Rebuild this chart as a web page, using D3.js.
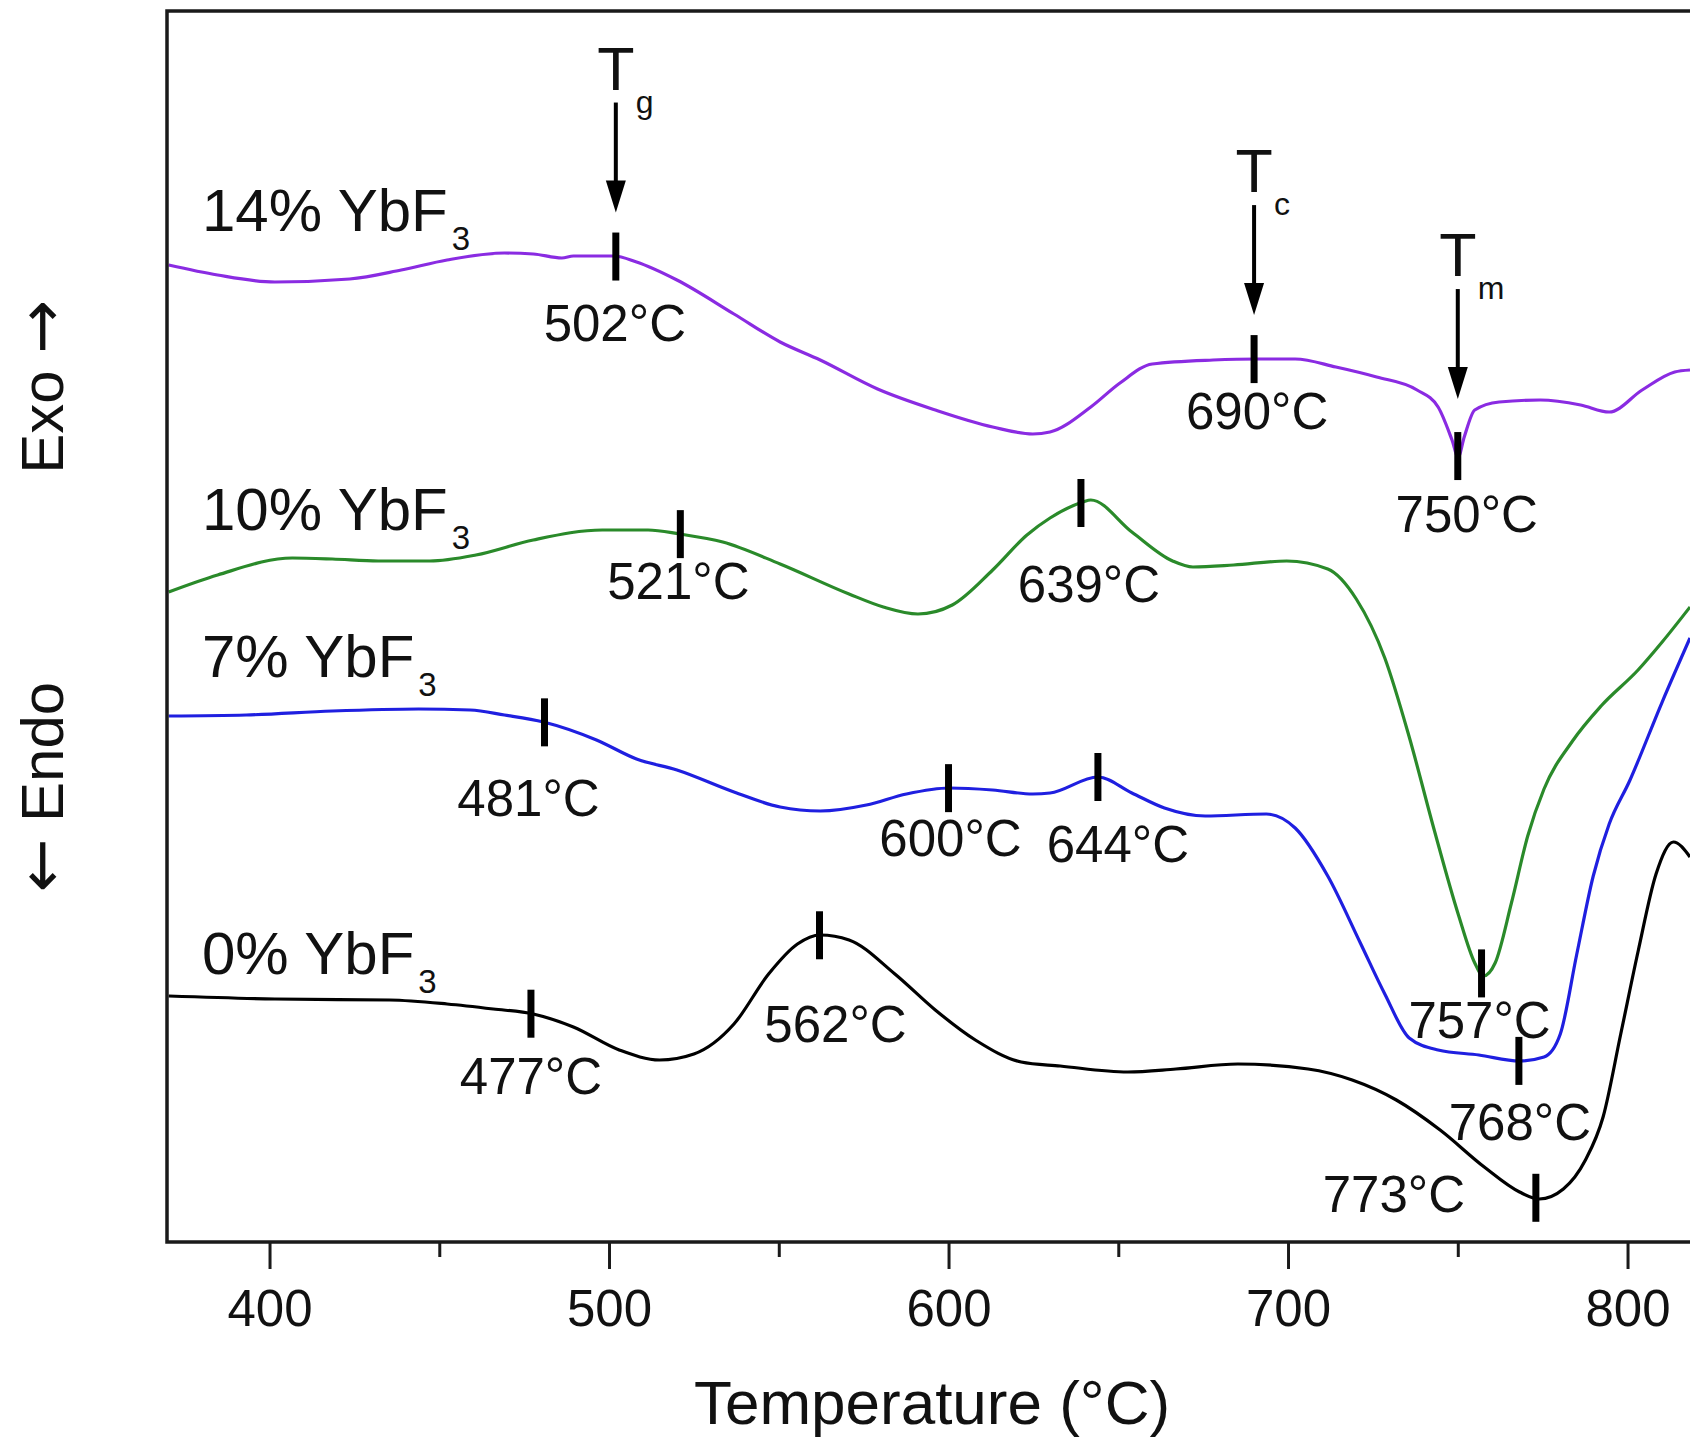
<!DOCTYPE html>
<html>
<head>
<meta charset="utf-8">
<script src="https://cdn.jsdelivr.net/npm/d3@7"></script>
<style>
  body { margin: 0; background: #fff; }
  text { font-family: "Liberation Sans", Arial, Helvetica, sans-serif; fill: #111; }
</style>
</head>
<body>
<svg id="chart" width="1690" height="1442"></svg>
<script>
// DSC traces: temperature (°C) and heat flow (arbitrary units)
var temp14 = [370.3,384.7,401.6,423.6,438.8,452.3,469.2,477.7,486.1,489.5,501.4,508.1,520.0,536.8,550.4,562.2,579.1,596.1,613.0,624.8,629.9,641.9,650.5,660.0,677.9,691.2,702.1,714.1,726.1,738.0,744.2,748.3,750.1,751.9,755.0,762.2,774.3,786.2,794.6,804.3,813.9,818.4];
var flow14 = [97.7,96.7,96.0,96.3,97.2,98.2,98.9,98.8,98.4,98.6,98.6,98.0,96.2,92.8,90.0,88.2,85.3,83.2,81.5,80.8,81.0,83.5,85.9,87.8,88.2,88.3,88.3,87.5,86.5,85.2,83.5,80.2,78.5,80.5,83.2,84.0,84.2,83.7,83.0,85.2,87.0,87.2];

var temp10 = [370.3,384.7,406.7,418.5,432.0,447.2,460.8,477.7,498.0,511.5,520.8,533.5,550.4,570.7,580.8,591.0,601.1,613.0,623.1,629.9,639.6,641.9,654.0,666.0,672.0,684.0,699.6,711.7,720.1,728.5,735.7,742.9,750.2,755.0,757.5,761.0,765.8,770.6,775.4,783.8,792.2,803.1,810.2,818.4];
var flow10 = [65.0,66.7,68.4,68.3,68.1,68.1,68.7,70.2,71.2,71.2,70.8,70.0,67.8,64.8,63.5,62.8,63.7,67.2,70.7,72.4,74.0,74.2,71.0,68.1,67.5,67.7,68.1,67.3,64.3,58.4,50.5,41.4,32.7,27.9,26.6,27.9,33.9,40.6,45.3,50.1,53.6,57.2,60.0,63.5];

var temp7 = [370.3,393.1,418.5,443.9,459.1,469.2,480.7,496.3,508.1,520.0,536.8,550.4,562.2,575.8,587.6,600.3,613.0,624.8,629.9,644.0,654.0,663.6,675.6,693.6,702.1,711.7,721.3,728.5,735.7,744.2,756.2,768.2,775.4,780.2,785.0,789.9,794.6,800.6,810.2,818.4];
var flow7 = [52.6,52.7,53.1,53.3,53.2,52.7,52.0,50.2,48.3,47.2,45.0,43.5,43.1,43.7,44.8,45.4,45.2,44.8,44.9,46.5,44.9,43.4,42.6,42.8,41.4,36.6,29.9,24.8,20.4,19.2,18.7,18.1,18.5,20.8,28.7,36.6,41.8,46.1,54.0,60.4];

var temp0 = [370.3,401.6,435.4,452.3,465.9,477.7,489.5,503.0,514.9,525.0,536.8,547.0,555.5,562.2,570.7,584.2,596.1,607.9,621.4,632.9,652.8,667.0,685.2,705.9,718.9,731.9,744.8,757.8,768.2,774.0,781.1,787.6,792.8,798.0,803.2,808.4,813.5,818.4];
var flow0 = [24.6,24.3,24.2,23.8,23.3,22.8,21.5,19.2,18.2,18.8,21.8,26.8,29.8,30.7,30.2,26.8,23.2,20.2,18.0,17.6,17.0,17.3,17.8,17.3,16.2,14.2,11.2,7.5,5.0,4.3,5.3,8.2,12.5,20.8,29.2,36.8,40.0,38.5];

var compositions = ['14%', '10%', '7%', '0%'];
var colors = ['#8a2be2', '#2a8a2a', '#1f1fe0', '#000000'];

// marked temperatures (trace index, °C)
var markTrace = [0,0,0,1,1,1,2,2,2,2,3,3,3];
var markTemp = [502,690,750,521,639,757,481,600,644,768,477,562,773];

// Tg, Tc, Tm arrows on the 14% trace
var phaseTemp = [502, 690, 750];
var phaseSub = ['g', 'c', 'm'];

var xTicks = [400, 500, 600, 700, 800];
var xMinor = [450, 550, 650, 750];

// ---- layout ----
var W = 1690, H = 1442;
var plotLeft = 167, plotTop = 11, plotBottom = 1242;
var markDx = [-1,3,9,-2,8,-2,-16,2,20,1,0,16,-142];
var markDy = [84,70,76,65,99,65,94,68,85,79,80,107,14];
var nameY = [231, 530, 677, 974];
var arrowGap = [20, 20, 33];

var traces = [
  {T: temp14, v: flow14},
  {T: temp10, v: flow10},
  {T: temp7, v: flow7},
  {T: temp0, v: flow0}
];

var svg = d3.select('#chart');
svg.append('rect').attr('width', W).attr('height', H).attr('fill', '#fff');

var x = d3.scaleLinear().domain([369.8, 818.4]).range([plotLeft, W]);
var y = d3.scaleLinear().domain([0, 123.1]).range([plotBottom, plotTop]);

function valueAt(tr, t) {
  var i = d3.bisectLeft(tr.T, t);
  if (i <= 0) return tr.v[0];
  if (i >= tr.T.length) return tr.v[tr.v.length - 1];
  var k = (t - tr.T[i - 1]) / (tr.T[i] - tr.T[i - 1]);
  return tr.v[i - 1] + k * (tr.v[i] - tr.v[i - 1]);
}

var line = d3.line()
  .x(function(d) { return x(d[0]); })
  .y(function(d) { return y(d[1]); })
  .curve(d3.curveMonotoneX);

traces.forEach(function(tr, i) {
  svg.append('path')
    .attr('d', line(d3.zip(tr.T, tr.v)))
    .attr('fill', 'none')
    .attr('stroke', colors[i])
    .attr('stroke-width', 3.2);
});

// frame (right side runs off the picture)
svg.append('path')
  .attr('d', 'M' + (W + 10) + ',' + plotTop + 'H' + plotLeft + 'V' + plotBottom + 'H' + (W + 10))
  .attr('fill', 'none')
  .attr('stroke', '#1a1a1a')
  .attr('stroke-width', 3.5);

// x axis
var gx = svg.append('g').attr('transform', 'translate(0,' + plotBottom + ')')
  .call(d3.axisBottom(x).tickValues(xTicks).tickSize(27).tickFormat(d3.format('d')));
gx.select('.domain').remove();
gx.selectAll('line').attr('stroke', '#1a1a1a').attr('stroke-width', 3);
gx.selectAll('text').attr('y', 84).attr('dy', 0)
  .attr('font-size', 51).attr('fill', '#111')
  .attr('font-family', '"Liberation Sans", Arial, sans-serif');

var gm = svg.append('g').attr('transform', 'translate(0,' + plotBottom + ')')
  .call(d3.axisBottom(x).tickValues(xMinor).tickSize(15).tickFormat(''));
gm.select('.domain').remove();
gm.selectAll('line').attr('stroke', '#1a1a1a').attr('stroke-width', 3);

svg.append('text')
  .attr('x', 932).attr('y', 1424)
  .attr('text-anchor', 'middle')
  .attr('font-size', 62)
  .text('Temperature (°C)');

// Exo / Endo
var exo = svg.append('text')
  .attr('transform', 'translate(63,387) rotate(-90)')
  .attr('text-anchor', 'middle')
  .attr('font-size', 60)
  .text('Exo ');
exo.append('tspan').attr('font-family', '"DejaVu Sans", sans-serif').attr('font-size', 64).text('\u2192');
var endo = svg.append('text')
  .attr('transform', 'translate(63,787) rotate(-90)')
  .attr('text-anchor', 'middle')
  .attr('font-size', 60);
endo.append('tspan').attr('font-family', '"DejaVu Sans", sans-serif').attr('font-size', 64).text('\u2190');
endo.append('tspan').text(' Endo');

// trace names
compositions.forEach(function(c, i) {
  var t = svg.append('text')
    .attr('x', 202).attr('y', nameY[i])
    .attr('font-size', 60)
    .text(c + ' YbF');
  t.append('tspan')
    .attr('dx', 4).attr('dy', 19)
    .attr('font-size', 33)
    .text('3');
});

// marked temperatures
markTemp.forEach(function(t, i) {
  var tr = traces[markTrace[i]];
  var cx = x(t), cy = y(valueAt(tr, t));
  svg.append('line')
    .attr('x1', cx).attr('x2', cx)
    .attr('y1', cy - 24).attr('y2', cy + 24)
    .attr('stroke', '#000')
    .attr('stroke-width', 7);
  svg.append('text')
    .attr('x', cx + markDx[i]).attr('y', cy + markDy[i])
    .attr('text-anchor', 'middle')
    .attr('font-size', 51)
    .text(t + '°C');
});

// Tg / Tc / Tm arrows
phaseTemp.forEach(function(t, i) {
  var ax = x(t);
  var tip = y(valueAt(traces[0], t)) - 24 - arrowGap[i];
  var start = tip - 110;
  svg.append('line')
    .attr('x1', ax).attr('x2', ax)
    .attr('y1', start).attr('y2', tip - 20)
    .attr('stroke', '#000')
    .attr('stroke-width', 4);
  svg.append('path')
    .attr('d', 'M' + ax + ',' + tip + 'L' + (ax - 10) + ',' + (tip - 32) + 'L' + (ax + 10) + ',' + (tip - 32) + 'Z')
    .attr('fill', '#000');
  svg.append('text')
    .attr('x', ax).attr('y', start - 13)
    .attr('text-anchor', 'middle')
    .attr('font-size', 61)
    .text('T');
  svg.append('text')
    .attr('x', ax + 20).attr('y', start + 10)
    .attr('font-size', 32)
    .text(phaseSub[i]);
});
</script>
</body>
</html>
